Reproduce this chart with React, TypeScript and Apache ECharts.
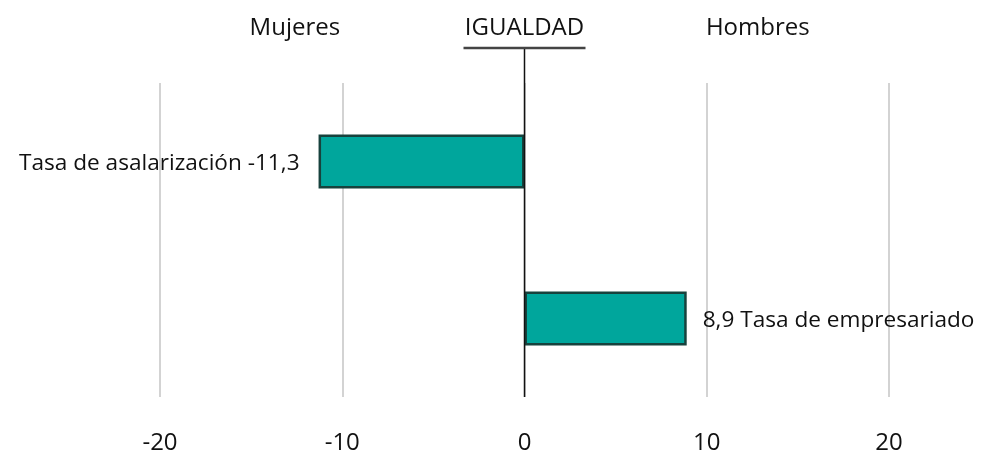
import React, { useEffect, useRef } from "react";
import * as echarts from "echarts";

const categories = ["Tasa de asalarización", "Tasa de empresariado"];
const values = [-11.3, 8.9];
const headerLeft = "Mujeres";
const headerCenter = "IGUALDAD";
const headerRight = "Hombres";
const axisMin = -20;
const axisMax = 20;
const axisInterval = 10;

const FONT = "'Open Sans', 'Noto Sans', sans-serif";
const fmt = (v: number) => v.toFixed(1).replace(".", ",");

const W = 981;
const H = 452;

export default function App() {
  const ref = useRef<HTMLDivElement>(null);
  useEffect(() => {
    if (!ref.current) return;
    const chart = echarts.init(ref.current, undefined, { renderer: "svg" });
    const gridTop = 83;
    const gridBottomPad = 55;
    chart.setOption({
      animation: false,
      grid: { left: 160, right: 92, top: gridTop, bottom: gridBottomPad, containLabel: false },
      xAxis: {
        type: "value",
        min: axisMin,
        max: axisMax,
        interval: axisInterval,
        axisLine: { show: false },
        axisTick: { show: false },
        axisLabel: {
          margin: 33,
          fontSize: 24,
          lineHeight: 20,
          color: "#111",
          fontFamily: FONT,
        },
        splitLine: { show: true, lineStyle: { color: "#c4c4c4", width: 1.5 } },
      },
      yAxis: {
        type: "category",
        data: categories,
        inverse: true,
        axisLine: { show: false },
        axisTick: { show: false },
        axisLabel: { show: false },
      },
      series: [
        {
          type: "bar",
          barWidth: 54,
          data: values.map((v, i) => ({
            value: v,
            label: {
              show: true,
              position: v < 0 ? "left" : "right",
              distance: v < 0 ? 19 : 16,
              formatter: () =>
                v < 0 ? `${categories[i]} ${fmt(v)}` : `${fmt(v)} ${categories[i]}`,
            },
          })),
          itemStyle: {
            color: "#00A69C",
            borderColor: "#17423d",
            borderWidth: 2.5,
          },
          label: {
            fontSize: 22.6,
            color: "#111",
            fontFamily: FONT,
          },
        },
      ],
    });
    const x0 = chart.convertToPixel({ xAxisIndex: 0 }, 0) as number;
    const xL = chart.convertToPixel({ xAxisIndex: 0 }, -12.6) as number;
    const xR = chart.convertToPixel({ xAxisIndex: 0 }, 12.8) as number;
    const gridBottom = H - gridBottomPad;
    const headerStyle = {
      fontSize: 24,
      fontFamily: FONT,
      fill: "#111",
      align: "center",
      verticalAlign: "middle",
    };
    chart.setOption({
      graphic: [
        {
          type: "line",
          shape: { x1: x0, y1: 48, x2: x0, y2: gridBottom },
          style: { stroke: "#111", lineWidth: 1.5 },
          z: 10,
        },
        {
          type: "line",
          shape: { x1: x0 - 61, y1: 48, x2: x0 + 61, y2: 48 },
          style: { stroke: "#444", lineWidth: 2.5 },
          z: 10,
        },
        { type: "text", x: x0, y: 25, style: { ...headerStyle, text: headerCenter } },
        { type: "text", x: xL, y: 25, style: { ...headerStyle, text: headerLeft } },
        { type: "text", x: xR, y: 25, style: { ...headerStyle, text: headerRight } },
      ],
    });
    return () => chart.dispose();
  }, []);
  return (
    <div
      ref={ref}
      style={{ position: "fixed", left: 0, top: 0, width: W, height: H }}
    />
  );
}
